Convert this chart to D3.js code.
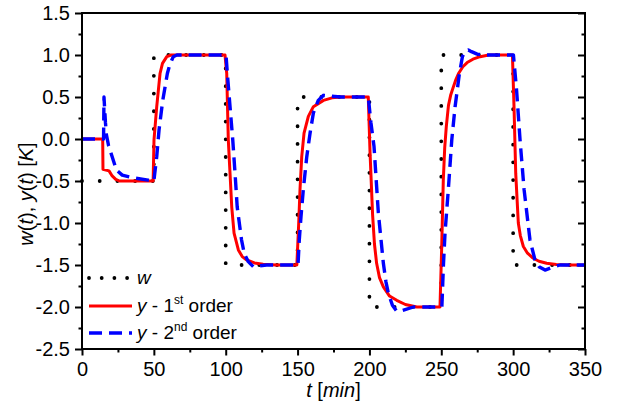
<!DOCTYPE html>
<html>
<head>
<meta charset="utf-8">
<script src="https://cdn.jsdelivr.net/npm/d3@7"></script>
<style>
body { margin: 0; background: #fff; }
text { font-family: "Liberation Sans", Arial, sans-serif; }
</style>
</head>
<body>
<svg id="chart" width="619" height="407"></svg>
<script>
// setpoint w(t)
const wData = [[0,-0.5],[50,-0.5],[50,1],[100,1],[100,-1.5],[150,-1.5],[150,0.5],[200,0.5],
    [200,-2],[250,-2],[250,1],[300,1],[300,-1.5],[350,-1.5]]

// y - 1st order model
const y1Data = [[0,0],[14.4,0],[14.6,-0.36],[18.8,-0.38],[21,-0.44],[23.5,-0.48],[26,-0.5],[49.5,-0.5],
    [50.1,-0.01],[52,0.385],[54.3,0.78],[56,0.9],[59,0.98],[62,1],[99.5,1],
    [100.7,0.78],[101.8,-0.01],[103,-0.41],[104.2,-0.81],[105.8,-1.12],[108.8,-1.32],[111.5,-1.4],
    [114.6,-1.44],[120,-1.475],[126,-1.49],[135,-1.5],[149.5,-1.5],
    [150.8,-1],[151.7,-0.6],[152.9,-0.21],[154.5,0.07],[157.5,0.27],[161,0.385],[168,0.46],[174,0.49],
    [180,0.5],[199.2,0.5],
    [200.4,-0.15],[202.2,-0.9],[203.5,-1.25],[205,-1.48],[207,-1.65],[209.7,-1.76],[214,-1.87],
    [219,-1.92],[225,-1.97],[233,-2],[249.1,-2],
    [250.3,-1.28],[251.4,-0.49],[252.4,-0.1],[253.5,0.15],[255,0.4],[256.5,0.52],[258,0.6],[260,0.7],
    [262,0.78],[265,0.86],[268,0.91],[272,0.95],[277,0.98],[283,1],[299.5,1],
    [300.6,0.385],[301.8,-0.41],[303.6,-1],[305,-1.15],[307.1,-1.28],[310,-1.36],[314,-1.42],
    [318,-1.455],[323.3,-1.48],[330,-1.495],[337,-1.5],[350,-1.5]]

// y - 2nd order model
const y2Data = [[0,0],[15,0],[15.3,0.5],[15.8,0.35],[16.3,0.2],[17,0.05],[18.5,-0.08],[20.6,-0.19],
    [24,-0.37],[28,-0.43],[35,-0.46],[46,-0.49],[50,-0.5],
    [52,-0.21],[53.6,0.107],[56.1,0.45],[59.4,0.78],[61,0.88],[63.5,0.98],[66,1],[100.2,1],
    [101.5,0.7],[103,0.385],[104.9,-0.01],[106.5,-0.41],[108,-0.81],[111,-1.2],[113,-1.37],
    [115.7,-1.46],[119.2,-1.52],[123,-1.51],[128.5,-1.5],[150.3,-1.5],
    [151.2,-1.2],[152.4,-0.92],[154,-0.6],[156.4,-0.21],[158.7,0.07],[161,0.31],[164.4,0.46],
    [168,0.52],[173,0.51],[180,0.5],[199.2,0.5],
    [201,0.2],[203.2,-0.09],[206.2,-0.88],[209.7,-1.48],[211.5,-1.7],[213.2,-1.84],[216,-1.98],
    [219,-2.05],[223,-2.04],[230.6,-2],[250.4,-2],
    [251.5,-1.5],[252.6,-1.12],[254.9,-0.6],[257.3,-0.01],[259.6,0.385],[262.6,0.78],[264.7,0.98],
    [266.5,1.04],[268.8,1.06],[271,1.04],[275,1.01],[280,1],[300.2,1],
    [302.4,0.58],[304.8,-0.01],[307.6,-0.6],[311.7,-1.2],[315.2,-1.44],[318,-1.52],[322.2,-1.56],
    [327,-1.53],[332.6,-1.5],[350,-1.5]]

const xTicks = [0,50,100,150,200,250,300,350]
const xMinor = [25,75,125,175,225,275,325]
const yTicks = [-2.5,-2,-1.5,-1,-0.5,0,0.5,1,1.5]
const yMinor = [-2.25,-1.75,-1.25,-0.75,-0.25,0.25,0.75,1.25]

const legendItems = [
    {key: "w", sup: "", rest: ""},
    {key: "y", sup: "st", rest: " - 1", tail: " order"},
    {key: "y", sup: "nd", rest: " - 2", tail: " order"}
]

let svg = d3.select("#chart")
let pLeft = 82, pRight = 585, pTop = 13, pBottom = 349

let x = d3.scaleLinear().domain([0,350]).range([pLeft,pRight])
let y = d3.scaleLinear().domain([-2.5,1.5]).range([pBottom,pTop])

let fmt = d => d.toFixed(1)
let fmtX = d => String(d)

// axes
let gx = svg.append("g").attr("transform", `translate(0,${pBottom})`)
    .call(d3.axisBottom(x).tickValues(xTicks).tickSize(6.5).tickPadding(6).tickFormat(fmtX))
let gxm = svg.append("g").attr("transform", `translate(0,${pBottom})`)
    .call(d3.axisBottom(x).tickValues(xMinor).tickSize(3.5).tickFormat(""))
let gy = svg.append("g").attr("transform", `translate(${pLeft},0)`)
    .call(d3.axisLeft(y).tickValues(yTicks).tickSize(7).tickPadding(5).tickFormat(fmt))
let gym = svg.append("g").attr("transform", `translate(${pLeft},0)`)
    .call(d3.axisLeft(y).tickValues(yMinor).tickSize(3.5).tickFormat(""))
let gr = svg.append("g").attr("transform", `translate(${pRight},0)`)
    .call(d3.axisLeft(y).tickValues(yTicks).tickSize(7).tickFormat(""))
let grm = svg.append("g").attr("transform", `translate(${pRight},0)`)
    .call(d3.axisLeft(y).tickValues(yMinor).tickSize(3.5).tickFormat(""))

for (const g of [gx,gxm,gy,gym,gr,grm]) {
    g.select(".domain").remove()
    g.selectAll("line").attr("stroke","#000").attr("stroke-width",2)
    g.selectAll("text").attr("fill","#000").style("font-size","20px")
        .style("font-family",'"Liberation Sans", Arial, sans-serif')
}
gy.selectAll("text").attr("dy","0.34em")

// curves
let line = d3.line().x(d => x(d[0])).y(d => y(d[1]))
let plot = svg.append("g")

plot.append("path").datum(wData).attr("d", line)
    .attr("fill","none").attr("stroke","#000").attr("stroke-width",3.8)
    .attr("stroke-linecap","round").attr("stroke-dasharray","0,17.7")
plot.append("path").datum(y1Data).attr("d", line)
    .attr("fill","none").attr("stroke","#ff0000").attr("stroke-width",3)
    .attr("stroke-linejoin","round")
plot.append("path").datum(y2Data).attr("d", line)
    .attr("fill","none").attr("stroke","#0000ff").attr("stroke-width",3.4)
    .attr("stroke-dasharray","13,7").attr("stroke-linejoin","round")

// frame
svg.append("rect").attr("x",pLeft).attr("y",pTop)
    .attr("width",pRight-pLeft).attr("height",pBottom-pTop)
    .attr("fill","none").attr("stroke","#000").attr("stroke-width",2)

// axis labels
let xl = svg.append("text").attr("x",(pLeft+pRight)/2).attr("y",397)
    .attr("text-anchor","middle").style("font-size","20px")
xl.append("tspan").style("font-style","italic").text("t")
xl.append("tspan").text(" [")
xl.append("tspan").style("font-style","italic").text("min")
xl.append("tspan").text("]")

let yl = svg.append("text").attr("transform","translate(33,194) rotate(-90)")
    .attr("text-anchor","middle").style("font-size","20px")
yl.append("tspan").style("font-style","italic").text("w")
yl.append("tspan").text("(")
yl.append("tspan").style("font-style","italic").text("t")
yl.append("tspan").text("), ")
yl.append("tspan").style("font-style","italic").text("y")
yl.append("tspan").text("(")
yl.append("tspan").style("font-style","italic").text("t")
yl.append("tspan").text(") [")
yl.append("tspan").style("font-style","italic").text("K")
yl.append("tspan").text("]")

// legend
let rows = [278, 306, 333]
let styles = [
    {stroke:"#000", width:3.8, dash:"0,12.7", cap:"round"},
    {stroke:"#ff0000", width:3, dash:null, cap:"butt"},
    {stroke:"#0000ff", width:3.4, dash:"13,7", cap:"butt"}
]
legendItems.forEach((it,i) => {
    let s = styles[i]
    svg.append("line").attr("x1",89).attr("x2",132).attr("y1",rows[i]).attr("y2",rows[i])
        .attr("stroke",s.stroke).attr("stroke-width",s.width)
        .attr("stroke-dasharray",s.dash).attr("stroke-linecap",s.cap)
    let t = svg.append("text").attr("x",137).attr("y",rows[i]+6).style("font-size","19px")
    t.append("tspan").style("font-style","italic").text(it.key)
    if (it.sup) {
        t.append("tspan").text(it.rest)
        t.append("tspan").attr("dy",-8).style("font-size","12px").text(it.sup)
        t.append("tspan").attr("dy",8).text(it.tail)
    }
})
</script>
</body>
</html>
